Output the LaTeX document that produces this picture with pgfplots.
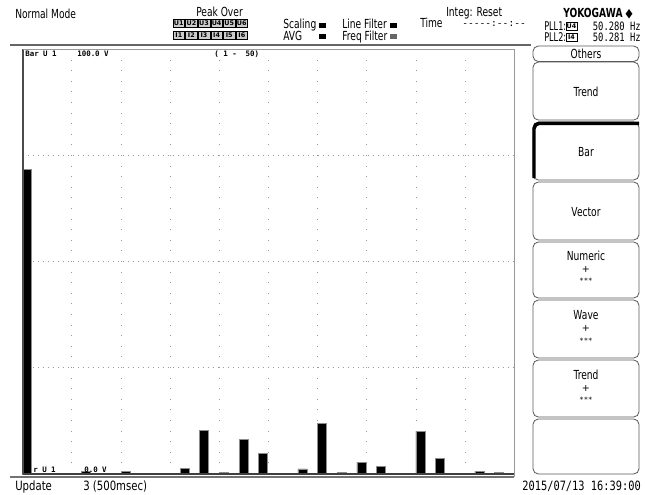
\documentclass[border=0pt]{standalone}
\usepackage{fontspec}
\setmainfont{DejaVu Sans}
\newfontfamily\mono{DejaVu Sans Mono}
\usepackage{graphicx}
\usepackage{pgfplots}
\pgfplotsset{compat=1.18}
\newcommand\hf{\fontsize{7.2}{8.6}\selectfont}
\newcommand\ftf{\fontsize{8}{9.6}\selectfont}
\newcommand\pf{\mono\bfseries\fontsize{5.6}{6}\selectfont}
\newcommand\T[1]{\scalebox{0.95}[1.3]{#1}}
\begin{document}
\begin{tikzpicture}[x=0.75pt,y=-0.75pt,
  t/.style={anchor=base west, inner sep=0pt, font=\hf},
  btn/.style={draw=black!65, line width=0.6pt, rounded corners=4pt}]
\useasboundingbox (0,0) rectangle (645,494);
\fill[white] (0,0) rectangle (645,494);

% ---- chart ----
\begin{axis}[at={(17.025pt,-355.5pt)}, anchor=south west, scale only axis,
  width=368.7pt, height=318.5pt,
  xmin=0, xmax=50, ymin=0, ymax=100,
  axis line style={draw=none},
  xtick={5,10,...,45}, ytick={25,50,75},
  xticklabels={}, yticklabels={},
  major tick length=0pt,
  grid=major,
  x grid style={black!40, line width=0.7pt, dash pattern=on 0.7pt off 7.25pt},
  y grid style={black!40, line width=0.7pt, dash pattern=on 0.7pt off 3.05pt},
  ybar, bar width=0.92, bar shift=0pt, clip=false]
\addplot[fill=black, draw=black!45, line width=0.4pt] coordinates {
 (0.46,71.7) (6.46,0.54) (10.46,0.64) (16.46,1.34) (18.46,10.3) (20.46,0.3)
 (22.46,8.2) (24.46,4.9) (28.46,1.2) (30.46,11.9) (32.46,0.4) (34.46,2.8)
 (36.46,1.8) (40.46,10.1) (42.46,3.6) (46.46,0.64) (48.46,0.47)};
\end{axis}

% frame
\draw[black!70, line width=1.3pt] (22.7,49.3) -- (22.7,474);
\draw[black!40, line width=0.9pt] (22.7,49.3) -- (514.3,49.3) -- (514.3,477);
\draw[black!75, line width=1pt] (22.7,474) -- (514.3,474);
\draw[black!55, line width=1pt] (10,477) -- (514.3,477);
\draw[black!60, line width=1pt] (10,45) -- (531,45);

% in-plot labels
\node[t, font=\pf] at (25,56) {Bar U 1};
\node[t, font=\pf] at (77,56) {100.0 V};
\node[t, font=\pf] at (214,56) {( 1 -\ \ 50)};
\node[t, font=\pf] at (33,472.5) {r U 1};
\node[t, font=\pf] at (84,472.5) {0.0 V};

% header
\node[t] at (15,18) {\T{Normal Mode}};
\node[t] at (196,16.5) {\T{Peak Over}};
\foreach \k in {1,...,6} {
  \draw[black, line width=0.4pt, fill=black!20] ({173+(\k-1)*12.6},19.5) rectangle ++(11.6,8);
  \node[inner sep=0pt, font=\bfseries\fontsize{4.8}{5}\selectfont] at ({173+(\k-1)*12.6+5.8},23.5) {U\k};
  \draw[black, line width=0.4pt, fill=black!20] ({173+(\k-1)*12.6},31) rectangle ++(11.6,8);
  \node[inner sep=0pt, font=\bfseries\fontsize{4.8}{5}\selectfont] at ({173+(\k-1)*12.6+5.8},35) {I\k};
}
\node[t] at (283,28.5) {\T{Scaling}};
\fill (319,22.5) rectangle (326,27.5);
\node[t] at (283,40) {\T{AVG}};
\fill (319,34) rectangle (326,39);
\node[t] at (342,28.5) {\T{Line Filter}};
\fill (390,22.5) rectangle (397,27.5);
\node[t] at (342,40) {\T{Freq Filter}};
\fill[black!60] (390,34) rectangle (397,39);
\node[t] at (446,16.5) {\T{Integ: Reset}};
\node[t] at (420,27.5) {\T{Time}};
\node[t, font=\mono\hf] at (462,26.5) {-----:--:--};
\node[t, font=\hf\bfseries] at (563,17.5) {\T{YOKOGAWA ◆}};
\node[t] at (544,30.5) {\scalebox{0.85}[1.25]{PLL1:}};
\draw[black, line width=0.4pt] (566,22.5) rectangle (577,30.5);
\node[inner sep=0pt, font=\bfseries\fontsize{4.8}{5}\selectfont] at (571.5,26.5) {U4};
\node[t, font=\mono\hf, anchor=base east] at (641,30.5) {\scalebox{0.92}[1.2]{50.280 Hz}};
\node[t] at (544,41.5) {\scalebox{0.85}[1.25]{PLL2:}};
\draw[black, line width=0.4pt] (566,33.5) rectangle (577,41.5);
\node[inner sep=0pt, font=\bfseries\fontsize{4.8}{5}\selectfont] at (571.5,37.5) {I4};
\node[t, font=\mono\hf, anchor=base east] at (641,41.5) {\scalebox{0.92}[1.2]{50.281 Hz}};

% right menu
\draw[btn] (533,46) rectangle (639,61.5);
\node[t, anchor=base] at (586,58.5) {\T{Others}};
\draw[btn] (533,62) rectangle (639,120);
\node[t, anchor=base] at (586,96) {\T{Trend}};
\draw[btn] (533,122) rectangle (639,180);
\draw[black, line width=2.6pt, rounded corners=4pt] (534,178) -- (534,123.3) -- (639,123.3);
\node[t, anchor=base] at (586,156) {\T{Bar}};
\draw[btn] (533,182) rectangle (639,240);
\node[t, anchor=base] at (586,216) {\T{Vector}};
\draw[btn] (533,242) rectangle (639,298);
\node[t, anchor=base] at (586,260) {\T{Numeric}};
\node[t, anchor=base] at (586,272) {+};
\node[t, anchor=base, font=\mono\fontsize{5.5}{6}\selectfont] at (586,283.5) {***};
\draw[btn] (533,300) rectangle (639,358);
\node[t, anchor=base] at (586,319) {\T{Wave}};
\node[t, anchor=base] at (586,331) {+};
\node[t, anchor=base, font=\mono\fontsize{5.5}{6}\selectfont] at (586,343) {***};
\draw[btn] (533,360) rectangle (639,417);
\node[t, anchor=base] at (586,379) {\T{Trend}};
\node[t, anchor=base] at (586,391) {+};
\node[t, anchor=base, font=\mono\fontsize{5.5}{6}\selectfont] at (586,402.5) {***};
\draw[btn] (533,419) rectangle (639,474);

% footer
\node[t, font=\ftf] at (15,490) {\scalebox{0.95}[1.2]{Update}};
\node[t, font=\ftf] at (83,490) {\scalebox{0.95}[1.2]{3 (500msec)}};
\node[t, font=\mono\ftf, anchor=base east] at (641,490) {\scalebox{0.97}[1.2]{2015/07/13 16:39:00}};
\end{tikzpicture}
\end{document}
